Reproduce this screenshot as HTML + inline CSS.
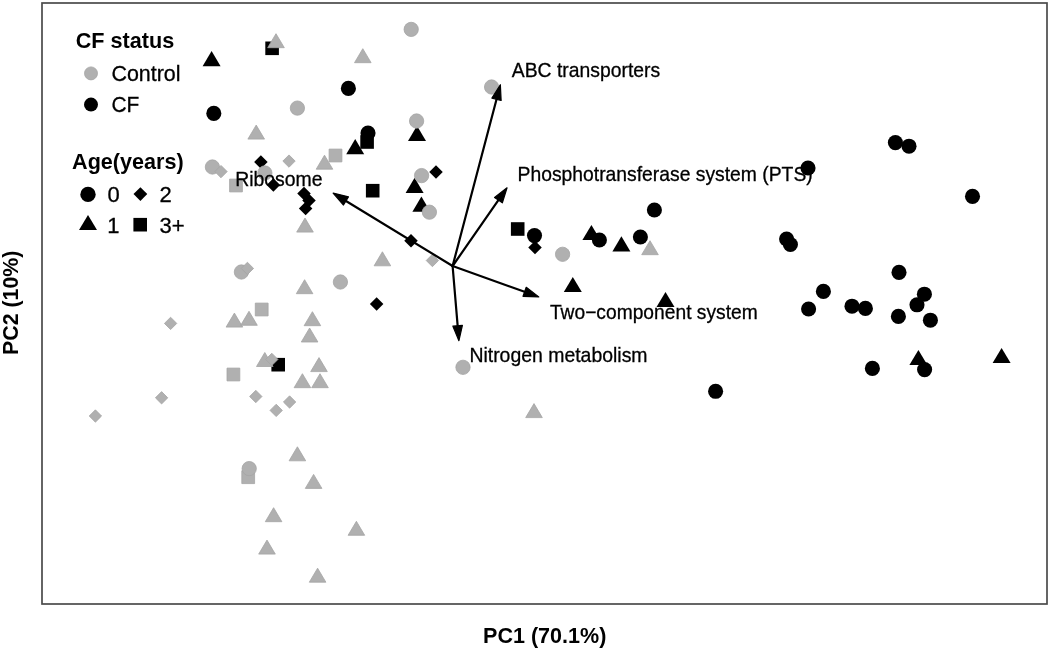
<!DOCTYPE html>
<html><head><meta charset="utf-8"><title>PCA biplot</title>
<style>
html,body{margin:0;padding:0;background:#fff;}
svg{display:block;font-family:"Liberation Sans",sans-serif;fill:#000;}
text.r{stroke:#000;stroke-width:0.3px;}
</style></head><body>
<svg width="1050" height="650" viewBox="0 0 1050 650">
<rect width="1050" height="650" fill="#fff"/>
<rect x="42" y="3" width="1005" height="601" fill="none" stroke="#4a4a4a" stroke-width="1.7"/>
<polygon points="265.30,41.50 278.90,41.50 278.90,55.10 265.30,55.10" fill="#000000"/>
<polygon points="276.00,33.69 284.30,47.70 267.70,47.70" fill="#b0b0b0" stroke="#a4a4a4" stroke-width="0.8"/>
<polygon points="211.60,51.10 220.60,66.30 202.60,66.30" fill="#000000"/>
<circle cx="213.80" cy="113.40" r="7.55" fill="#000000"/>
<circle cx="297.40" cy="108.10" r="7.15" fill="#b0b0b0" stroke="#a4a4a4" stroke-width="0.8"/>
<polygon points="256.20,125.09 264.50,139.10 247.90,139.10" fill="#b0b0b0" stroke="#a4a4a4" stroke-width="0.8"/>
<circle cx="348.40" cy="88.40" r="7.55" fill="#000000"/>
<circle cx="212.40" cy="167.00" r="7.15" fill="#b0b0b0" stroke="#a4a4a4" stroke-width="0.8"/>
<polygon points="221.00,165.42 227.18,171.60 221.00,177.78 214.82,171.60" fill="#b0b0b0" stroke="#a4a4a4" stroke-width="0.8"/>
<polygon points="229.60,179.10 242.40,179.10 242.40,191.90 229.60,191.90" fill="#b0b0b0" stroke="#a4a4a4" stroke-width="0.8"/>
<polygon points="260.90,155.25 267.65,162.00 260.90,168.75 254.15,162.00" fill="#000000"/>
<circle cx="264.85" cy="173.00" r="7.15" fill="#b0b0b0" stroke="#a4a4a4" stroke-width="0.8"/>
<polygon points="289.00,154.92 295.18,161.10 289.00,167.28 282.82,161.10" fill="#b0b0b0" stroke="#a4a4a4" stroke-width="0.8"/>
<polygon points="324.50,155.19 332.80,169.20 316.20,169.20" fill="#b0b0b0" stroke="#a4a4a4" stroke-width="0.8"/>
<polygon points="329.10,149.10 341.90,149.10 341.90,161.90 329.10,161.90" fill="#b0b0b0" stroke="#a4a4a4" stroke-width="0.8"/>
<polygon points="273.40,178.25 280.15,185.00 273.40,191.75 266.65,185.00" fill="#000000"/>
<polygon points="304.00,186.85 310.75,193.60 304.00,200.35 297.25,193.60" fill="#000000"/>
<polygon points="309.00,193.75 315.75,200.50 309.00,207.25 302.25,200.50" fill="#000000"/>
<polygon points="305.60,201.65 312.35,208.40 305.60,215.15 298.85,208.40" fill="#000000"/>
<polygon points="305.00,218.09 313.30,232.10 296.70,232.10" fill="#b0b0b0" stroke="#a4a4a4" stroke-width="0.8"/>
<circle cx="241.40" cy="272.00" r="7.15" fill="#b0b0b0" stroke="#a4a4a4" stroke-width="0.8"/>
<polygon points="247.40,262.22 253.58,268.40 247.40,274.58 241.22,268.40" fill="#b0b0b0" stroke="#a4a4a4" stroke-width="0.8"/>
<circle cx="340.40" cy="282.00" r="7.15" fill="#b0b0b0" stroke="#a4a4a4" stroke-width="0.8"/>
<polygon points="304.60,279.69 312.90,293.70 296.30,293.70" fill="#b0b0b0" stroke="#a4a4a4" stroke-width="0.8"/>
<polygon points="255.30,303.10 268.10,303.10 268.10,315.90 255.30,315.90" fill="#b0b0b0" stroke="#a4a4a4" stroke-width="0.8"/>
<polygon points="234.40,313.09 242.70,327.10 226.10,327.10" fill="#b0b0b0" stroke="#a4a4a4" stroke-width="0.8"/>
<polygon points="249.00,311.29 257.30,325.30 240.70,325.30" fill="#b0b0b0" stroke="#a4a4a4" stroke-width="0.8"/>
<polygon points="170.60,317.22 176.78,323.40 170.60,329.58 164.42,323.40" fill="#b0b0b0" stroke="#a4a4a4" stroke-width="0.8"/>
<polygon points="312.40,311.69 320.70,325.70 304.10,325.70" fill="#b0b0b0" stroke="#a4a4a4" stroke-width="0.8"/>
<polygon points="309.60,327.99 317.90,342.00 301.30,342.00" fill="#b0b0b0" stroke="#a4a4a4" stroke-width="0.8"/>
<polygon points="271.40,357.90 285.00,357.90 285.00,371.50 271.40,371.50" fill="#000000"/>
<polygon points="264.80,352.49 273.10,366.50 256.50,366.50" fill="#b0b0b0" stroke="#a4a4a4" stroke-width="0.8"/>
<polygon points="271.80,353.22 277.98,359.40 271.80,365.58 265.62,359.40" fill="#b0b0b0" stroke="#a4a4a4" stroke-width="0.8"/>
<polygon points="227.00,368.10 239.80,368.10 239.80,380.90 227.00,380.90" fill="#b0b0b0" stroke="#a4a4a4" stroke-width="0.8"/>
<polygon points="319.00,357.59 327.30,371.60 310.70,371.60" fill="#b0b0b0" stroke="#a4a4a4" stroke-width="0.8"/>
<polygon points="302.40,373.69 310.70,387.70 294.10,387.70" fill="#b0b0b0" stroke="#a4a4a4" stroke-width="0.8"/>
<polygon points="320.00,373.69 328.30,387.70 311.70,387.70" fill="#b0b0b0" stroke="#a4a4a4" stroke-width="0.8"/>
<polygon points="161.60,391.62 167.78,397.80 161.60,403.98 155.42,397.80" fill="#b0b0b0" stroke="#a4a4a4" stroke-width="0.8"/>
<polygon points="255.80,390.32 261.98,396.50 255.80,402.68 249.62,396.50" fill="#b0b0b0" stroke="#a4a4a4" stroke-width="0.8"/>
<polygon points="289.60,395.82 295.78,402.00 289.60,408.18 283.42,402.00" fill="#b0b0b0" stroke="#a4a4a4" stroke-width="0.8"/>
<polygon points="276.20,404.22 282.38,410.40 276.20,416.58 270.02,410.40" fill="#b0b0b0" stroke="#a4a4a4" stroke-width="0.8"/>
<polygon points="95.40,409.82 101.58,416.00 95.40,422.18 89.22,416.00" fill="#b0b0b0" stroke="#a4a4a4" stroke-width="0.8"/>
<polygon points="297.40,446.79 305.70,460.80 289.10,460.80" fill="#b0b0b0" stroke="#a4a4a4" stroke-width="0.8"/>
<polygon points="241.80,470.80 254.60,470.80 254.60,483.60 241.80,483.60" fill="#b0b0b0" stroke="#a4a4a4" stroke-width="0.8"/>
<circle cx="249.20" cy="468.60" r="7.15" fill="#b0b0b0" stroke="#a4a4a4" stroke-width="0.8"/>
<polygon points="313.60,474.39 321.90,488.40 305.30,488.40" fill="#b0b0b0" stroke="#a4a4a4" stroke-width="0.8"/>
<polygon points="273.60,507.69 281.90,521.70 265.30,521.70" fill="#b0b0b0" stroke="#a4a4a4" stroke-width="0.8"/>
<polygon points="267.00,540.09 275.30,554.10 258.70,554.10" fill="#b0b0b0" stroke="#a4a4a4" stroke-width="0.8"/>
<polygon points="317.60,568.19 325.90,582.20 309.30,582.20" fill="#b0b0b0" stroke="#a4a4a4" stroke-width="0.8"/>
<polygon points="356.40,521.29 364.70,535.30 348.10,535.30" fill="#b0b0b0" stroke="#a4a4a4" stroke-width="0.8"/>
<circle cx="411.20" cy="29.40" r="7.15" fill="#b0b0b0" stroke="#a4a4a4" stroke-width="0.8"/>
<polygon points="362.80,48.69 371.10,62.70 354.50,62.70" fill="#b0b0b0" stroke="#a4a4a4" stroke-width="0.8"/>
<circle cx="491.60" cy="87.00" r="7.15" fill="#b0b0b0" stroke="#a4a4a4" stroke-width="0.8"/>
<polygon points="417.00,125.80 426.00,141.00 408.00,141.00" fill="#000000"/>
<circle cx="416.60" cy="121.00" r="7.15" fill="#b0b0b0" stroke="#a4a4a4" stroke-width="0.8"/>
<circle cx="368.00" cy="133.00" r="7.55" fill="#000000"/>
<polygon points="360.30,135.20 373.90,135.20 373.90,148.80 360.30,148.80" fill="#000000"/>
<polygon points="355.20,139.10 364.20,154.30 346.20,154.30" fill="#000000"/>
<polygon points="436.00,165.25 442.75,172.00 436.00,178.75 429.25,172.00" fill="#000000"/>
<polygon points="414.60,177.80 423.60,193.00 405.60,193.00" fill="#000000"/>
<circle cx="421.60" cy="175.60" r="7.15" fill="#b0b0b0" stroke="#a4a4a4" stroke-width="0.8"/>
<polygon points="365.90,183.90 379.50,183.90 379.50,197.50 365.90,197.50" fill="#000000"/>
<polygon points="421.40,196.60 430.40,211.80 412.40,211.80" fill="#000000"/>
<circle cx="429.40" cy="212.20" r="7.15" fill="#b0b0b0" stroke="#a4a4a4" stroke-width="0.8"/>
<polygon points="411.00,233.95 417.75,240.70 411.00,247.45 404.25,240.70" fill="#000000"/>
<polygon points="382.40,251.79 390.70,265.80 374.10,265.80" fill="#b0b0b0" stroke="#a4a4a4" stroke-width="0.8"/>
<polygon points="432.40,254.32 438.58,260.50 432.40,266.68 426.22,260.50" fill="#b0b0b0" stroke="#a4a4a4" stroke-width="0.8"/>
<polygon points="376.60,297.25 383.35,304.00 376.60,310.75 369.85,304.00" fill="#000000"/>
<polygon points="510.90,222.20 524.50,222.20 524.50,235.80 510.90,235.80" fill="#000000"/>
<circle cx="534.50" cy="235.60" r="7.55" fill="#000000"/>
<polygon points="535.00,240.85 541.75,247.60 535.00,254.35 528.25,247.60" fill="#000000"/>
<circle cx="562.60" cy="254.30" r="7.15" fill="#b0b0b0" stroke="#a4a4a4" stroke-width="0.8"/>
<polygon points="591.40,224.90 600.40,240.10 582.40,240.10" fill="#000000"/>
<circle cx="599.40" cy="240.00" r="7.55" fill="#000000"/>
<polygon points="621.40,236.30 630.40,251.50 612.40,251.50" fill="#000000"/>
<circle cx="640.40" cy="237.00" r="7.55" fill="#000000"/>
<polygon points="650.00,240.69 658.30,254.70 641.70,254.70" fill="#b0b0b0" stroke="#a4a4a4" stroke-width="0.8"/>
<circle cx="654.40" cy="210.00" r="7.55" fill="#000000"/>
<polygon points="572.80,276.90 581.80,292.10 563.80,292.10" fill="#000000"/>
<polygon points="665.50,291.90 674.50,307.10 656.50,307.10" fill="#000000"/>
<circle cx="463.00" cy="367.30" r="7.15" fill="#b0b0b0" stroke="#a4a4a4" stroke-width="0.8"/>
<polygon points="534.00,403.59 542.30,417.60 525.70,417.60" fill="#b0b0b0" stroke="#a4a4a4" stroke-width="0.8"/>
<circle cx="808.00" cy="168.00" r="7.55" fill="#000000"/>
<circle cx="895.40" cy="142.60" r="7.55" fill="#000000"/>
<circle cx="909.00" cy="146.20" r="7.55" fill="#000000"/>
<circle cx="972.50" cy="196.40" r="7.55" fill="#000000"/>
<circle cx="786.60" cy="239.00" r="7.55" fill="#000000"/>
<circle cx="790.40" cy="244.50" r="7.55" fill="#000000"/>
<circle cx="899.00" cy="272.40" r="7.55" fill="#000000"/>
<circle cx="823.40" cy="291.40" r="7.55" fill="#000000"/>
<circle cx="808.60" cy="309.00" r="7.55" fill="#000000"/>
<circle cx="852.00" cy="306.20" r="7.55" fill="#000000"/>
<circle cx="865.40" cy="308.40" r="7.55" fill="#000000"/>
<circle cx="924.40" cy="294.20" r="7.55" fill="#000000"/>
<circle cx="917.00" cy="304.80" r="7.55" fill="#000000"/>
<circle cx="898.40" cy="316.40" r="7.55" fill="#000000"/>
<circle cx="930.40" cy="320.20" r="7.55" fill="#000000"/>
<polygon points="918.40,349.90 927.40,365.10 909.40,365.10" fill="#000000"/>
<circle cx="924.60" cy="369.60" r="7.55" fill="#000000"/>
<circle cx="872.40" cy="368.40" r="7.55" fill="#000000"/>
<polygon points="1001.60,347.90 1010.60,363.10 992.60,363.10" fill="#000000"/>
<circle cx="715.60" cy="391.30" r="7.55" fill="#000000"/>
<line x1="452.60" y1="266.00" x2="496.88" y2="97.92" stroke="#000" stroke-width="2.2" stroke-linecap="round"/><polygon points="500.36,84.73 501.13,100.48 491.92,98.06" fill="#000" stroke="#000" stroke-width="1.2" stroke-linejoin="round"/>
<line x1="452.60" y1="266.00" x2="499.26" y2="198.98" stroke="#000" stroke-width="2.2" stroke-linecap="round"/><polygon points="507.05,187.79 502.36,202.85 494.55,197.41" fill="#000" stroke="#000" stroke-width="1.2" stroke-linejoin="round"/>
<line x1="452.60" y1="266.00" x2="525.96" y2="292.28" stroke="#000" stroke-width="2.2" stroke-linecap="round"/><polygon points="538.80,296.88 523.03,296.29 526.24,287.32" fill="#000" stroke="#000" stroke-width="1.2" stroke-linejoin="round"/>
<line x1="452.60" y1="266.00" x2="457.77" y2="327.15" stroke="#000" stroke-width="2.2" stroke-linecap="round"/><polygon points="458.92,340.74 452.91,326.16 462.40,325.36" fill="#000" stroke="#000" stroke-width="1.2" stroke-linejoin="round"/>
<line x1="452.60" y1="266.00" x2="344.76" y2="200.20" stroke="#000" stroke-width="2.2" stroke-linecap="round"/><polygon points="333.12,193.10 348.44,196.87 343.48,205.00" fill="#000" stroke="#000" stroke-width="1.2" stroke-linejoin="round"/>
<circle cx="91" cy="73.4" r="6.50" fill="#b0b0b0" stroke="#a4a4a4" stroke-width="0.8"/>
<circle cx="91" cy="104.6" r="7.0" fill="#000000"/>
<circle cx="88" cy="194.4" r="7.7" fill="#000000"/>
<polygon points="140.40,187.22 147.28,194.10 140.40,200.98 133.52,194.10" fill="#000000"/>
<polygon points="88.00,214.90 97.00,230.10 79.00,230.10" fill="#000000"/>
<polygon points="133.40,217.90 147.00,217.90 147.00,231.50 133.40,231.50" fill="#000000"/>
<text x="75.65" y="48" font-size="22.3" font-weight="bold" textLength="98.53" lengthAdjust="spacingAndGlyphs">CF status</text>
<text x="111.43" y="81" font-size="22.0" class="r" textLength="69.07" lengthAdjust="spacingAndGlyphs">Control</text>
<text x="111.45" y="112" font-size="22.0" class="r" textLength="27.86" lengthAdjust="spacingAndGlyphs">CF</text>
<text x="72.08" y="169" font-size="22.3" font-weight="bold" textLength="111.51" lengthAdjust="spacingAndGlyphs">Age(years)</text>
<text x="511.8" y="77" font-size="20.3" class="r" textLength="148.32" lengthAdjust="spacingAndGlyphs">ABC transporters</text>
<text x="517.52" y="181" font-size="20.3" class="r" textLength="295.22" lengthAdjust="spacingAndGlyphs">Phosphotransferase system (PTS)</text>
<text x="549.9" y="319" font-size="20.3" class="r" textLength="207.8" lengthAdjust="spacingAndGlyphs">Two−component system</text>
<text x="469.41" y="362" font-size="20.3" class="r" textLength="178.15" lengthAdjust="spacingAndGlyphs">Nitrogen metabolism</text>
<text x="235.21" y="186" font-size="20.3" class="r" textLength="87.35" lengthAdjust="spacingAndGlyphs">Ribosome</text>
<text x="483.03" y="643" font-size="22.3" font-weight="bold" textLength="123.3" lengthAdjust="spacingAndGlyphs">PC1 (70.1%)</text>
<text class="r" x="107.38" y="202" font-size="22" textLength="12.25" lengthAdjust="spacingAndGlyphs">0</text>
<text class="r" x="159.47" y="202" font-size="22" textLength="12.25" lengthAdjust="spacingAndGlyphs">2</text>
<text class="r" x="107.17" y="233" font-size="22" textLength="12.25" lengthAdjust="spacingAndGlyphs">1</text>
<text class="r" x="159.46" y="233" font-size="22" textLength="25.09" lengthAdjust="spacingAndGlyphs">3+</text>
<text transform="translate(18.4,354.96) rotate(-90)" font-size="22.3" font-weight="bold" textLength="104.36" lengthAdjust="spacingAndGlyphs">PC2 (10%)</text>
</svg>
</body></html>
